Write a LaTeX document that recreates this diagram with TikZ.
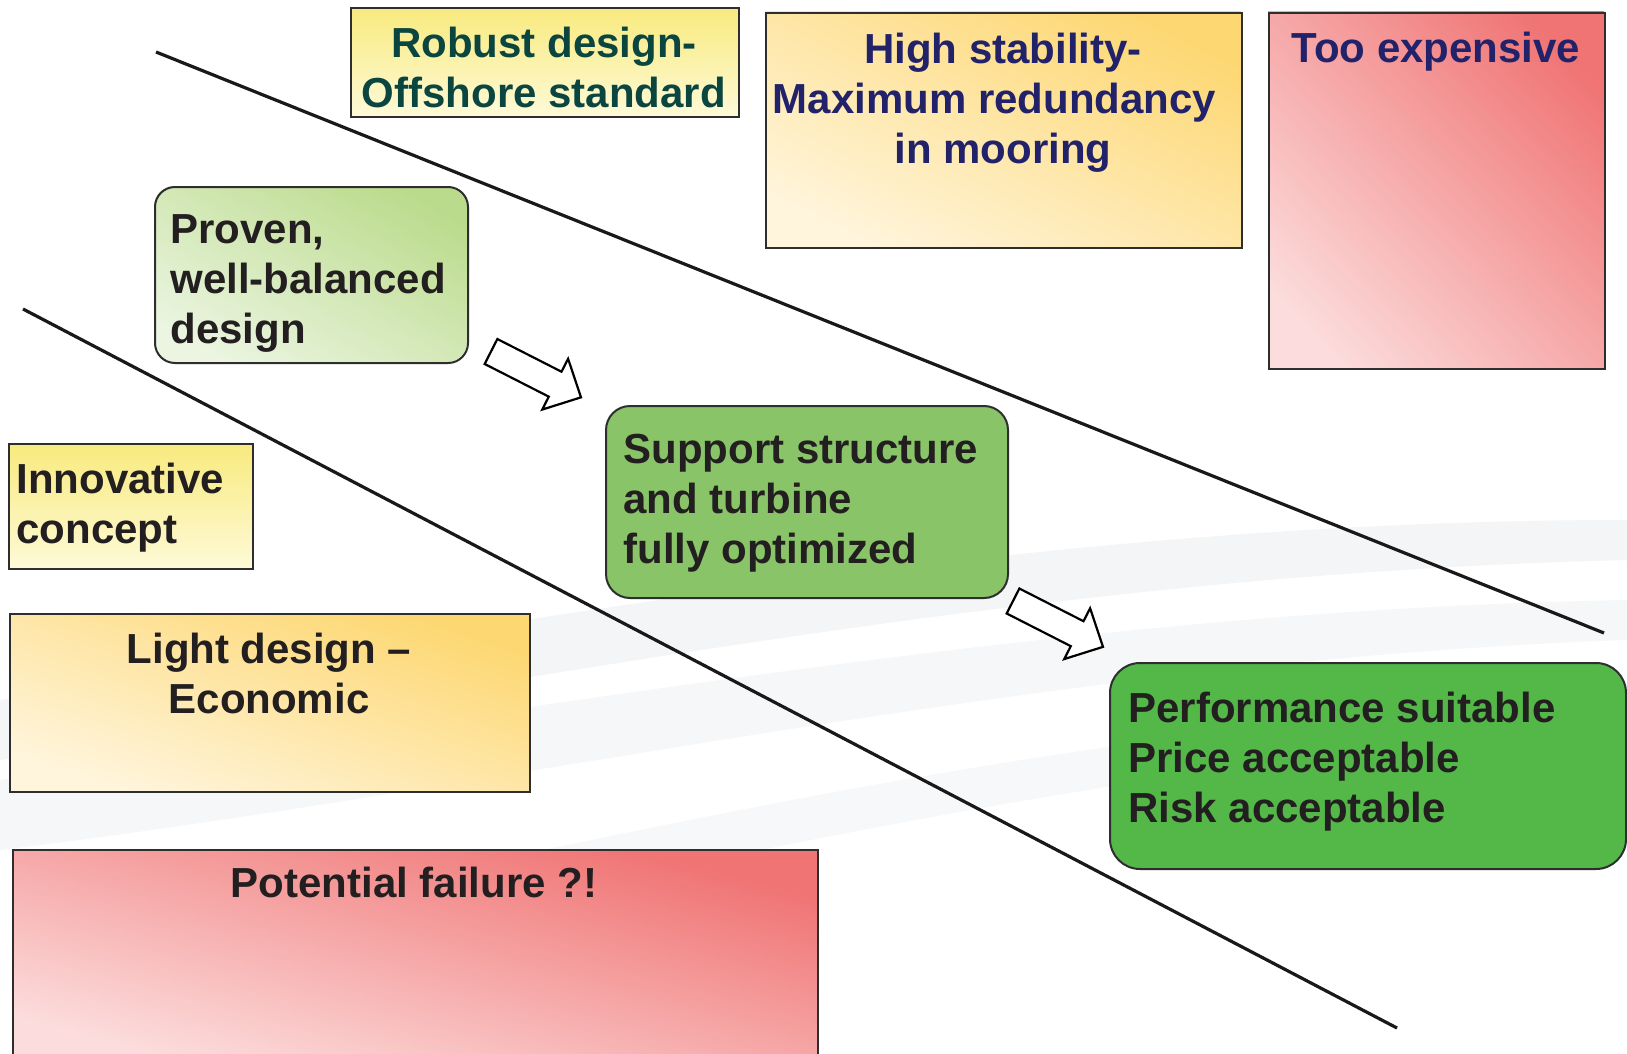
\documentclass[tikz,border=0pt]{standalone}
\usepackage{fontspec}
\setmainfont{Liberation Sans}
\definecolor{boxline}{HTML}{2E2E2E}
\definecolor{yelTop}{HTML}{F8EA7E}
\definecolor{yelBot}{HTML}{FEFAD8}
\definecolor{oraTR}{HTML}{FDD772}
\definecolor{oraBL}{HTML}{FFF5DC}
\definecolor{redTR}{HTML}{F07474}
\definecolor{redBL}{HTML}{FCDCDC}
\definecolor{grnTR}{HTML}{BBDB8C}
\definecolor{grnBL}{HTML}{EBF5E1}
\definecolor{supG}{HTML}{89C568}
\definecolor{perfG}{HTML}{53B848}
\definecolor{tealtxt}{HTML}{0A4540}
\definecolor{navytxt}{HTML}{22226A}
\definecolor{blacktxt}{HTML}{231F20}
\definecolor{swoosh}{HTML}{EBEEF2}
% diagonal gradient stretched with the box (x1,y1,x2,y2,corner radius,colour BL,colour TR)
\newcommand\gradrect[7]{%
  \begin{scope}
    \clip[rounded corners=#5] (#1,#2) rectangle (#3,#4);
    \begin{scope}[transform canvas={shift={({(#1+#3)/2},{(#2+#4)/2})}, xscale={(#3-#1)/200}, yscale={(#4-#2)/200}}]
      \shade[top color=#7, bottom color=#6, shading angle=-45] (-110,-110) rectangle (110,110);
    \end{scope}
  \end{scope}}
\begin{document}
\begin{tikzpicture}[x=0.5pt,y=-0.5pt,
  box/.style={draw=boxline, line width=1pt, inner sep=0pt, anchor=north west},
  yelbox/.style={box, shading=axis, top color=yelTop, bottom color=yelBot},
  txt/.style={inner sep=0pt, text=blacktxt, font=\bfseries\fontsize{21}{25}\selectfont},
  divider/.style={draw=black!90, line width=1.6pt},
  blockarrow/.style={draw=black, line width=1.1pt, fill=white, line join=miter}
]
\useasboundingbox (0,0) rectangle (1627,1054);
\fill[white] (0,0) rectangle (1627,1054);

% faint background swooshes
\fill[swoosh, opacity=0.55] (0,700) .. controls (450,640) and (1000,520) .. (1627,520)
  -- (1627,560) .. controls (1000,575) and (450,700) .. (0,760) -- cycle;
\fill[swoosh, opacity=0.45] (0,780) .. controls (500,720) and (1050,610) .. (1627,600)
  -- (1627,640) .. controls (1050,660) and (500,790) .. (0,850) -- cycle;
\fill[swoosh, opacity=0.4] (300,900) .. controls (700,820) and (1100,720) .. (1627,700)
  -- (1627,730) .. controls (1100,760) and (700,870) .. (300,940) -- cycle;

% dividing lines
\coordinate (u1) at (156,52);
\coordinate (u2) at (1604,633);
\coordinate (l1) at (23,309);
\coordinate (l2) at (1397,1028);
\draw[divider] (u1) -- (u2);
\draw[divider] (l1) -- (l2);

% boxes
\node[yelbox, minimum width=194pt, minimum height=54.5pt] (rob) at (350,7) {};
\node[txt, text=tealtxt, anchor=north, align=center] (robt) at (544,22)
  {\strut Robust design-\\Offshore standard};

\gradrect{765}{12}{1241}{247}{0pt}{oraBL}{oraTR}
\node[box, minimum width=238pt, minimum height=117.5pt] (high) at (765,12) {};
\node[txt, text=navytxt, anchor=north, align=center] (hight) at (1003,28)
  {\strut High stability-\\Maximum redundancy\rule{0.4em}{0pt}\\in mooring};

\gradrect{1268}{12}{1604}{368}{0pt}{redBL}{redTR}
\node[box, minimum width=168pt, minimum height=178pt] (exp) at (1268,12) {};
\node[txt, text=navytxt, anchor=north] (expt) at (1436,27) {\strut Too expensive};

\gradrect{154}{186}{467}{362}{10pt}{grnBL}{grnTR}
\node[box, rounded corners=10pt, minimum width=156.5pt, minimum height=88pt] (prov) at (154,186) {};
\node[txt, anchor=north west, align=left] (provt) at (170,208)
  {\strut Proven,\\well-balanced\\design};

\node[yelbox, minimum width=122pt, minimum height=62.5pt] (inno) at (8,443) {};
\node[txt, anchor=north west, align=left] (innot) at (16,458)
  {\strut Innovative\\concept};

\node[box, rounded corners=12pt, fill=supG, minimum width=201pt, minimum height=96pt] (supp) at (605,405) {};
\node[txt, anchor=north west, align=left] (suppt) at (623,428)
  {\strut Support structure\\and turbine\\fully optimized};

\gradrect{9}{613}{529}{791}{0pt}{oraBL}{oraTR}
\node[box, minimum width=260pt, minimum height=89pt] (light) at (9,613) {};
\node[txt, anchor=north, align=center] (lightt) at (269,628)
  {\strut Light design --\\Economic};

\gradrect{12}{849}{817}{1064}{0pt}{redBL}{redTR}
\node[box, minimum width=402.5pt, minimum height=107.5pt] (fail) at (12,849) {};
\node[txt, anchor=north] (failt) at (414,862) {\strut Potential failure ?!};

\node[box, rounded corners=15pt, fill=perfG, minimum width=258pt, minimum height=103pt] (perf) at (1109,662) {};
\node[txt, anchor=north west, align=left] (perft) at (1128,687)
  {\strut Performance suitable\\Price acceptable\\Risk acceptable};

% block arrows
\coordinate (a1) at (491,351.5);
\coordinate (a2) at (1013,601);
\foreach \c in {a1,a2}{
  \begin{scope}[shift={(\c)}, rotate=-27]
    \draw[blockarrow] (0,-14) -- (72,-14) -- (72,-28.5) -- (101,0) -- (72,28.5) -- (72,14) -- (0,14) -- cycle;
  \end{scope}
}
\end{tikzpicture}
\end{document}
